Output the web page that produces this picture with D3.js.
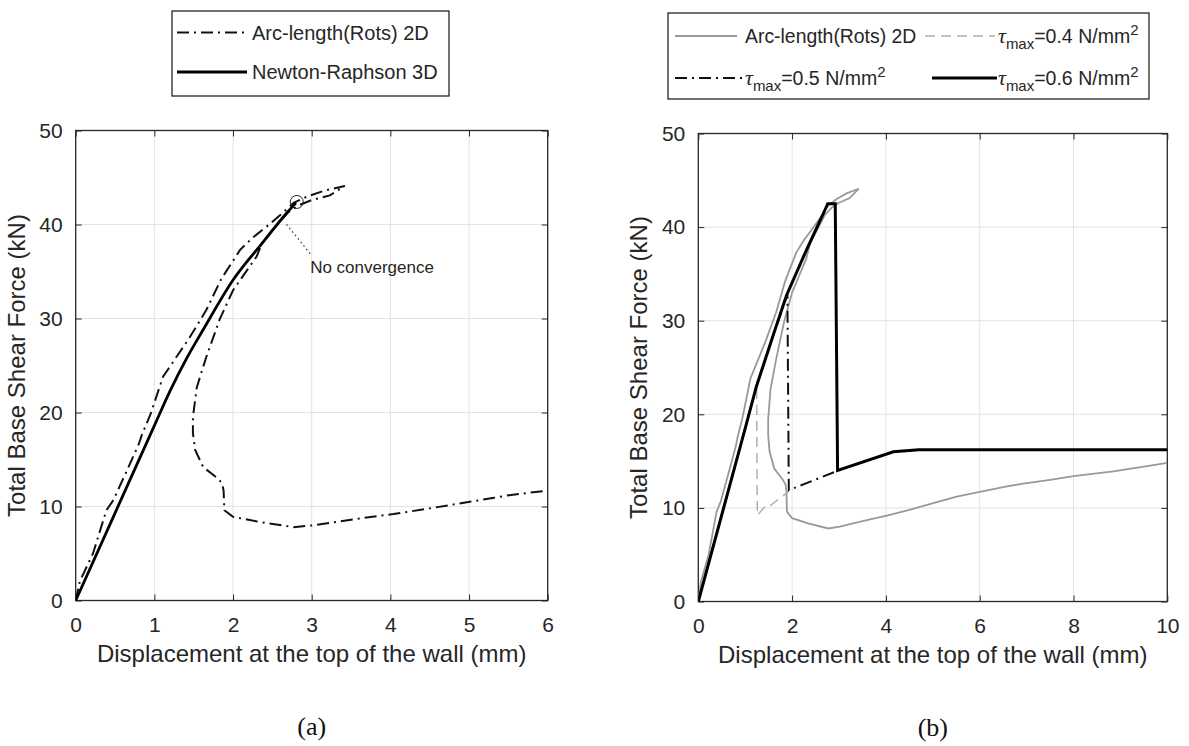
<!DOCTYPE html>
<html><head><meta charset="utf-8">
<script src="https://cdn.jsdelivr.net/npm/d3@7"></script>
<style>body{margin:0;background:#fff}svg{display:block}</style>
</head><body>
<svg id="c" width="1189" height="746"></svg>
<script>
// ---------- data ----------
const arcX = [0,0.055,0.22,0.39,0.48,0.65,0.80,0.84,0.95,1.11,1.28,1.45,1.66,1.85,2.09,2.25,2.43,2.6,2.77,2.95,3.16,3.42,3.23,3.0,2.85,2.7,2.5,2.38,2.30,2.15,2.0,1.83,1.66,1.54,1.49,1.49,1.52,1.62,1.79,1.86,1.88,1.89,2.0,2.34,2.77,3.02,3.5,4.04,4.5,5.01,5.3,5.51,6.0,6.58,6.93,7.5,8.0,8.85,9.5,10.0];
const arcY = [0,2.1,5.0,9.6,10.7,13.8,16.6,17.6,19.8,23.8,25.9,28.0,30.9,34.2,37.3,38.6,39.8,41.0,42.3,43.0,43.6,44.1,43.1,42.6,42.1,41.3,39.4,38.2,36.6,34.8,33.0,29.9,25.9,22.7,19.5,17.8,16.0,14.2,13.1,12.5,11.7,9.6,8.9,8.35,7.8,8.0,8.6,9.2,9.8,10.5,10.9,11.2,11.7,12.3,12.6,13.0,13.4,13.9,14.4,14.8];
const nrX = [0,0.5,1.0,1.2,1.4,1.62,2.0,2.39,2.68,2.8];
const nrY = [0,9.3,18.6,22.3,25.6,28.8,34.1,38.2,41.2,42.3];
const t04X = [0,1.0,1.245,1.25,1.26,1.38,1.42,1.47,1.94];
const t04Y = [0,18.5,22.9,15.0,9.2,9.9,10.1,10.0,11.8];
const t05X = [0,1.0,1.24,1.6,1.9,1.93,2.99];
const t05Y = [0,18.5,23.0,28.5,32.8,11.9,14.0];
const t06X = [0,1.0,1.24,1.6,1.88,2.31,2.67,2.76,2.92,2.97,4.16,4.7,10.0];
const t06Y = [0,18.5,23.0,28.5,32.7,37.6,41.5,42.5,42.5,14.0,16.0,16.2,16.2];
const yTicks = [0,10,20,30,40,50];
const xTicksA = [0,1,2,3,4,5,6];
const xTicksB = [0,2,4,6,8,10];
const noConv = {x:2.81, y:42.4, lx0:2.68, ly0:40.0, lx1:2.98, ly1:36.9, label:"No convergence"};
const captions = ["(a)","(b)"];
const yLabel = "Total Base Shear Force (kN)";
const xLabel = "Displacement at the top of the wall (mm)";

const svg = d3.select("#c");
const FONT = "'Liberation Sans', Arial, sans-serif";
const AX = "#262626";
const zip = (xs,ys)=>xs.map((x,i)=>[x,ys[i]]);

function panel(cfg){
  const x = d3.scaleLinear().domain(cfg.xd).range([cfg.l, cfg.r]);
  const y = d3.scaleLinear().domain([0,50]).range([cfg.b, cfg.t]);
  const g = svg.append("g");
  g.append("g").selectAll("line").data(cfg.xt.slice(1,-1)).join("line")
    .attr("x1",d=>x(d)).attr("x2",d=>x(d)).attr("y1",cfg.t).attr("y2",cfg.b)
    .attr("stroke","#e3e3e3").attr("stroke-width",1);
  g.append("g").selectAll("line").data(yTicks.slice(1,-1)).join("line")
    .attr("y1",d=>y(d)).attr("y2",d=>y(d)).attr("x1",cfg.l).attr("x2",cfg.r)
    .attr("stroke","#e3e3e3").attr("stroke-width",1);
  const fmt = d3.format("d");
  const ax = g.append("g").attr("transform",`translate(0,${cfg.b})`)
    .call(d3.axisBottom(x).tickValues(cfg.xt).tickFormat(fmt).tickSizeInner(-6).tickSizeOuter(0).tickPadding(17));
  const ay = g.append("g").attr("transform",`translate(${cfg.l},0)`)
    .call(d3.axisLeft(y).tickValues(yTicks).tickFormat(fmt).tickSizeInner(-6).tickSizeOuter(0).tickPadding(13));
  const axT = g.append("g").attr("transform",`translate(0,${cfg.t})`)
    .call(d3.axisTop(x).tickValues(cfg.xt).tickSizeInner(-6).tickSizeOuter(0).tickFormat(""));
  const ayR = g.append("g").attr("transform",`translate(${cfg.r},0)`)
    .call(d3.axisRight(y).tickValues(yTicks).tickSizeInner(-6).tickSizeOuter(0).tickFormat(""));
  [ax,ay,axT,ayR].forEach(a=>{
    a.select(".domain").remove();
    a.selectAll("line").attr("stroke",AX).attr("stroke-width",1);
    a.selectAll("text").attr("font-family",FONT).attr("font-size",21).attr("fill","#262626");
  });
  g.append("rect").attr("x",cfg.l).attr("y",cfg.t).attr("width",cfg.r-cfg.l).attr("height",cfg.b-cfg.t)
    .attr("fill","none").attr("stroke",AX).attr("stroke-width",1.3);
  g.append("text").attr("x",(cfg.l+cfg.r)/2).attr("y",cfg.b+61).attr("text-anchor","middle")
    .attr("font-family",FONT).attr("font-size",24).attr("fill","#262626").text(xLabel);
  g.append("text").attr("transform",`translate(${cfg.l-51},${(cfg.t+cfg.b)/2}) rotate(-90)`)
    .attr("text-anchor","middle").attr("font-family",FONT).attr("font-size",24).attr("fill","#262626").text(yLabel);
  g.append("text").attr("x",(cfg.l+cfg.r)/2).attr("y",cfg.b+134).attr("text-anchor","middle")
    .attr("font-family","'Liberation Serif','Times New Roman',serif").attr("font-size",26).attr("fill","#111").text(cfg.cap);
  const clipId = "clip"+cfg.cap.replace(/\W/g,"");
  svg.append("defs").append("clipPath").attr("id",clipId).append("rect")
    .attr("x",cfg.l).attr("y",cfg.t-20).attr("width",cfg.r-cfg.l).attr("height",cfg.b-cfg.t+22);
  const plot = g.append("g").attr("clip-path",`url(#${clipId})`);
  const line = d3.line().x(d=>x(d[0])).y(d=>y(d[1]));
  return {x,y,g,plot,line};
}

// ---------- panel (a) ----------
const A = panel({l:75.7,r:547.7,t:130.5,b:600.5,xd:[0,6],xt:xTicksA,cap:captions[0]});
A.plot.append("path").attr("d",A.line(zip(arcX,arcY))).attr("fill","none")
  .attr("stroke","#111").attr("stroke-width",2).attr("stroke-dasharray","12,5,2,5");
A.plot.append("path").attr("d",A.line.curve(d3.curveMonotoneX)(zip(nrX,nrY))).attr("fill","none")
  .attr("stroke","#000").attr("stroke-width",2.8);
A.line.curve(d3.curveLinear);
A.g.append("circle").attr("cx",A.x(noConv.x)).attr("cy",A.y(noConv.y)).attr("r",6.5)
  .attr("fill","none").attr("stroke","#222").attr("stroke-width",1);
A.g.append("line").attr("x1",A.x(noConv.lx0)).attr("y1",A.y(noConv.ly0))
  .attr("x2",A.x(noConv.lx1)).attr("y2",A.y(noConv.ly1))
  .attr("stroke","#333").attr("stroke-width",1.2).attr("stroke-dasharray","1.5,3");
A.g.append("text").attr("x",A.x(noConv.lx1)).attr("y",A.y(noConv.ly1)+19)
  .attr("font-family",FONT).attr("font-size",17).attr("fill","#262626").text(noConv.label);

// ---------- panel (b) ----------
const B = panel({l:698.3,r:1167.3,t:133.5,b:601.5,xd:[0,10],xt:xTicksB,cap:captions[1]});
B.plot.append("path").attr("d",B.line(zip(arcX,arcY))).attr("fill","none")
  .attr("stroke","#999").attr("stroke-width",1.8);
B.plot.append("path").attr("d",B.line(zip(t04X,t04Y))).attr("fill","none")
  .attr("stroke","#aaa").attr("stroke-width",1.4).attr("stroke-dasharray","10,6");
B.plot.append("path").attr("d",B.line(zip(t05X,t05Y))).attr("fill","none")
  .attr("stroke","#111").attr("stroke-width",2).attr("stroke-dasharray","12,5,2,5");
B.plot.append("path").attr("d",B.line(zip(t06X,t06Y))).attr("fill","none")
  .attr("stroke","#000").attr("stroke-width",3);

// ---------- legends ----------
function legendBox(x0,y0,x1,y1){
  svg.append("rect").attr("x",x0).attr("y",y0).attr("width",x1-x0).attr("height",y1-y0)
    .attr("fill","#fff").attr("stroke",AX).attr("stroke-width",1.3);
}
function sample(x0,x1,yy,st){
  const l = svg.append("line").attr("x1",x0).attr("x2",x1).attr("y1",yy).attr("y2",yy)
    .attr("stroke",st.c).attr("stroke-width",st.w);
  if(st.d) l.attr("stroke-dasharray",st.d);
}
function plainText(x0,yy,t,fs){
  svg.append("text").attr("x",x0).attr("y",yy+7).attr("font-family",FONT).attr("font-size",fs)
    .attr("fill","#262626").text(t);
}
function tauText(x0,yy,val){
  const t = svg.append("text").attr("x",x0).attr("y",yy+7).attr("font-family",FONT).attr("font-size",19.5).attr("fill","#262626");
  t.append("tspan").attr("font-family","'Liberation Serif','DejaVu Serif',serif").attr("font-style","italic").attr("font-size",22).text("τ");
  t.append("tspan").attr("font-size",15).attr("dy",6).text("max");
  t.append("tspan").attr("dy",-6).text("="+val+" N/mm");
  t.append("tspan").attr("font-size",15).attr("dy",-8).text("2");
}
const legendA = ["Arc-length(Rots) 2D","Newton-Raphson 3D"];
legendBox(172,11,449,96);
sample(177,247,32.5,{c:"#111",w:2,d:"12,5,2,5"}); plainText(252,32.5,legendA[0],20);
sample(177,247,72,{c:"#000",w:2.8}); plainText(252,72,legendA[1],20);

const legendB = ["Arc-length(Rots) 2D","0.4","0.5","0.6"];
legendBox(668,13,1149,99);
sample(675,737,36,{c:"#999",w:1.8}); plainText(745,36,legendB[0],19.4);
sample(925,995,36,{c:"#aaa",w:1.4,d:"10,6"}); tauText(998,36,legendB[1]);
sample(675,742,78,{c:"#111",w:2,d:"12,5,2,5"}); tauText(745,78,legendB[2]);
sample(932,997,78,{c:"#000",w:3}); tauText(998,78,legendB[3]);
</script>
</body></html>
